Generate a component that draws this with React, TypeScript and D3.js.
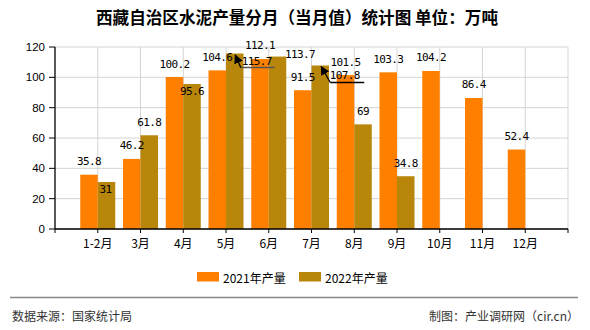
import React from "react";
import * as d3 from "d3";

const categories = ["1-2月", "3月", "4月", "5月", "6月", "7月", "8月", "9月", "10月", "11月", "12月"];
const production2021 = [35.8, 46.2, 100.2, 104.6, 112.1, 91.5, 101.5, 103.3, 104.2, 86.4, 52.4];
const production2022: (number | null)[] = [31, 61.8, 95.6, 115.7, 113.7, 107.8, 69, 34.8, null, null, null];
const yTicks = [0, 20, 40, 60, 80, 100, 120];
const seriesNames = ["2021年产量", "2022年产量"];
const title = "西藏自治区水泥产量分月（当月值）统计图 单位：万吨";
const sourceText = "数据来源：国家统计局";
const creditText = "制图：产业调研网（cir.cn）";

// layout-only label adjustments (offsets of label centre from bar top-centre)
type Adj = { dx: number; dy: number; leader?: { tipDx: number; tipDy: number; tailDx: number; tailDy: number; len: number; color: string } };
const defaultAdj: Adj = { dx: 0, dy: -13 };
const adj2022: (Adj | null)[] = [
  { dx: -1, dy: 8 },
  null,
  { dx: 0, dy: 7.5 },
  { dx: 22, dy: 8.2, leader: { tipDx: 0.5, tipDy: 1.5, tailDx: 6, tailDy: 14, len: 34, color: "#555" } },
  { dx: 22.5, dy: -1.6 },
  { dx: 24.6, dy: 9.5, leader: { tipDx: 1, tipDy: 1, tailDx: 10, tailDy: 17, len: 34, color: "#000" } },
  null,
  null,
];

const W = 590;
const H = 330;
const left = 55;
const right = 568;
const top = 47;
const bottom = 229;
const barW = 17.5;
const colors = ["#FF8000", "#B8860B"];
const labelFont = "'DejaVu Sans Mono', monospace";
const sansFont = "'Liberation Sans', Arial, sans-serif";
const cjkFont = "'Noto Sans CJK SC', sans-serif";

export default function App() {
  const x = d3.scaleLinear().domain([0, categories.length + 1]).range([left, right]);
  const y = d3.scaleLinear().domain([0, 120]).range([bottom, top]);
  const slots = d3.range(0, categories.length + 2);

  const fmt = (v: number) => String(v);

  return (
    <svg width={W} height={H} style={{ position: "absolute", left: 0, top: 0, background: "#fff" }}>
      <defs>
        <marker id="arrowBlack" viewBox="0 0 10 10" refX="9" refY="5" markerWidth="7" markerHeight="7" orient="auto">
          <path d="M0,0 L10,5 L0,10 z" fill="#000" />
        </marker>
      </defs>
      {/* title */}
      <text x={297} y={17} textAnchor="middle" dominantBaseline="central" fontFamily={cjkFont} fontWeight="bold" fontSize={16.6} fill="#000">
        {title}
      </text>
      {/* horizontal grid */}
      {yTicks.map((t) => (
        <line key={"hg" + t} x1={left} x2={right} y1={y(t)} y2={y(t)} stroke="#d4d4d4" strokeWidth={1} />
      ))}
      {/* vertical grid */}
      {slots.slice(1).map((s) => (
        <line key={"vg" + s} x1={x(s)} x2={x(s)} y1={top} y2={bottom} stroke="#d4d4d4" strokeWidth={1} />
      ))}
      {/* bars */}
      {categories.map((c, i) => {
        const cx = x(i + 1);
        const v1 = production2021[i];
        const v2 = production2022[i];
        return (
          <g key={"b" + c}>
            <rect x={cx - barW} y={y(v1)} width={barW} height={bottom - y(v1)} fill={colors[0]} />
            {v2 != null && <rect x={cx} y={y(v2)} width={barW} height={bottom - y(v2)} fill={colors[1]} />}
          </g>
        );
      })}
      {/* axes */}
      <line x1={left} x2={left} y1={top} y2={bottom} stroke="#000" strokeWidth={1.3} />
      <line x1={left} x2={right} y1={bottom} y2={bottom} stroke="#000" strokeWidth={1.3} />
      {yTicks.map((t) => (
        <g key={"yt" + t}>
          <line x1={left - 6} x2={left} y1={y(t)} y2={y(t)} stroke="#000" />
          <text x={left - 10} y={y(t)} textAnchor="end" dominantBaseline="central" fontFamily={sansFont} fontSize={11.5} fill="#000">
            {t}
          </text>
        </g>
      ))}
      {slots.map((s) => (
        <line key={"xt" + s} x1={x(s)} x2={x(s)} y1={bottom} y2={bottom + 4} stroke="#000" />
      ))}
      {categories.map((c, i) => (
        <text key={"xl" + c} x={x(i + 1)} y={242} textAnchor="middle" dominantBaseline="central" fontFamily={cjkFont} fontSize={12} fill="#000">
          {c}
        </text>
      ))}
      {/* labels 2021 */}
      {categories.map((c, i) => {
        const v = production2021[i];
        return (
          <text key={"l1" + c} x={x(i + 1) - barW / 2} y={y(v) + defaultAdj.dy} textAnchor="middle" dominantBaseline="central"
            fontFamily={labelFont} fontSize={11} letterSpacing={-0.6} fill="#000">
            {fmt(v)}
          </text>
        );
      })}
      {/* labels 2022 */}
      {categories.map((c, i) => {
        const v = production2022[i];
        if (v == null) return null;
        const a = adj2022[i] || defaultAdj;
        const bx = x(i + 1) + barW / 2;
        const by = y(v);
        const L = a.leader;
        return (
          <g key={"l2" + c}>
            {L && (
              <g>
                <line x1={bx + L.tailDx} y1={by + L.tailDy} x2={bx + L.tailDx + L.len} y2={by + L.tailDy} stroke={L.color} strokeWidth={1.5} />
                <line x1={bx + L.tailDx} y1={by + L.tailDy} x2={bx + L.tipDx} y2={by + L.tipDy} stroke="#000" strokeWidth={1.3} markerEnd="url(#arrowBlack)" />
              </g>
            )}
            <text x={bx + a.dx} y={by + a.dy} textAnchor="middle" dominantBaseline="central"
              fontFamily={labelFont} fontSize={11} letterSpacing={-0.6} fill="#000">
              {fmt(v)}
            </text>
          </g>
        );
      })}
      {/* legend */}
      {seriesNames.map((n, i) => (
        <g key={"lg" + n} transform={`translate(${197 + i * 102},272)`}>
          <rect x={0} y={0} width={22} height={9.5} fill={colors[i]} />
          <text x={26} y={5} dominantBaseline="central" fontFamily={cjkFont} fontSize={12} fill="#000">
            {n}
          </text>
        </g>
      ))}
      {/* footer */}
      <line x1={10} x2={578} y1={297.5} y2={297.5} stroke="#888" strokeWidth={1.5} />
      <text x={12} y={315} dominantBaseline="central" fontFamily={cjkFont} fontSize={12} fill="#333">
        {sourceText}
      </text>
      <text x={579} y={315} textAnchor="end" dominantBaseline="central" fontFamily={cjkFont} fontSize={12} fill="#333">
        {creditText}
      </text>
    </svg>
  );
}
